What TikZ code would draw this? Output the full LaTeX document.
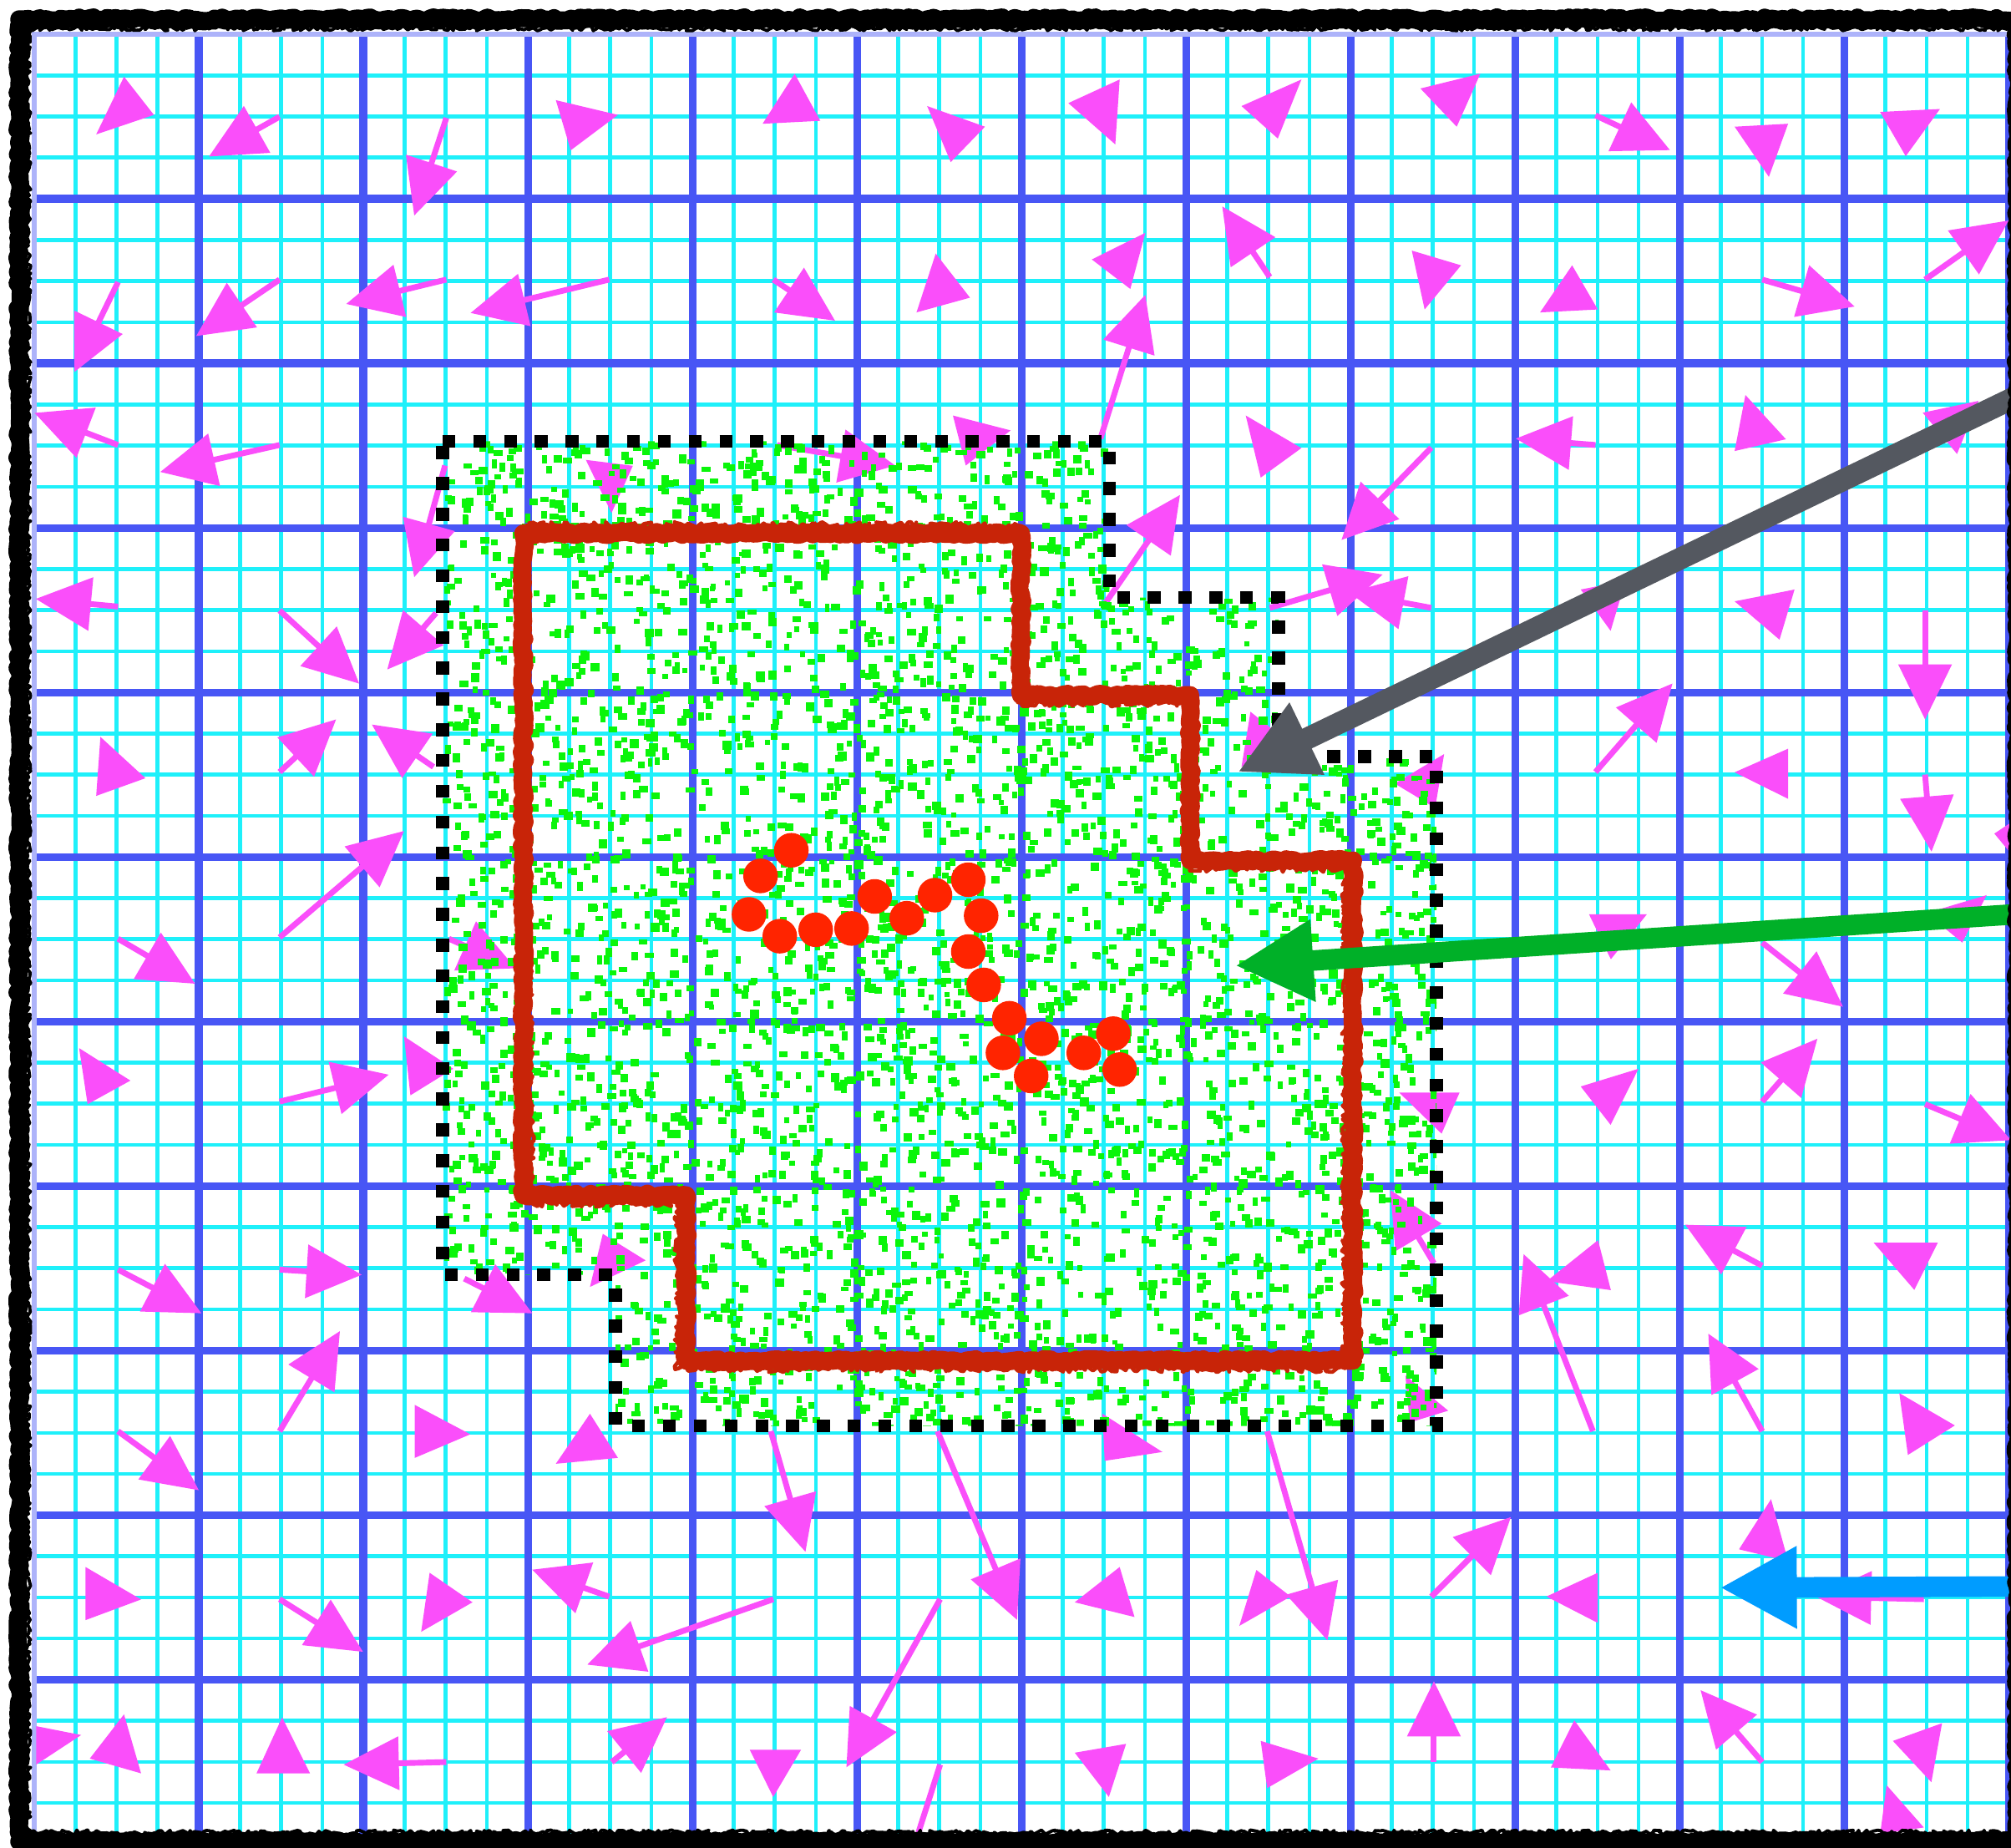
\documentclass[tikz,border=0pt]{standalone}
\usetikzlibrary{calc,arrows.meta,decorations.pathmorphing}
\definecolor{gmaj}{RGB}{72,86,245}
\definecolor{gmin}{RGB}{30,240,250}
\definecolor{magc}{RGB}{250,78,250}
\definecolor{speck}{RGB}{10,245,10}
\definecolor{redout}{RGB}{200,36,8}
\definecolor{reddot}{RGB}{255,36,0}
\definecolor{grayarr}{RGB}{84,88,96}
\definecolor{greenarr}{RGB}{0,176,40}
\definecolor{bluearr}{RGB}{0,156,255}
\tikzset{
  minorline/.style={draw=gmin,line width=3pt},
  majorline/.style={draw=gmaj,line width=6pt},
  mshaft/.style={draw=magc,line width=4.5pt},
  mhead/.style={fill=magc},
  gspeck/.style={fill=speck},
  dotline/.style={draw=black,line width=10pt,dash pattern=on 10pt off 14pt},
  redline/.style={draw=redout,line width=14pt,line join=round,line cap=round,decorate,decoration={random steps,segment length=3pt,amplitude=1.3pt}},
  redrough/.style={draw=redout,line width=3pt,line join=round,line cap=round,decorate,decoration={random steps,segment length=2pt,amplitude=3pt}},
  rdot/.style={fill=reddot},
  bigarrow/.style={line width=#1},
  borderline/.style={draw=black,line width=14pt,line join=round,line cap=round,decorate,decoration={random steps,segment length=3pt,amplitude=1.5pt}},
  borderthin/.style={draw=black,line width=2.5pt,line join=round,line cap=round,decorate,decoration={random steps,segment length=2pt,amplitude=2pt}},
}
\newcommand\mA[2]{\draw[mshaft] #1 -- ($#2!40pt!#1$);
  \fill[mhead] #2 -- ($#2!43pt!#1!21pt!90:#2$) -- ($#2!43pt!#1!21pt!-90:#2$) -- cycle;}
\newcommand\mT[3]{\fill[mhead] #1 -- #2 -- #3 -- cycle;}
\begin{document}
\begin{tikzpicture}[x=1pt,y=-1pt]
\useasboundingbox (0,0) rectangle (1568,1441);
\clip (0,0) rectangle (1568,1441);
\fill[white] (0,0) rectangle (1568,1441);
% grid
\foreach \k in {0,...,48}{\draw[minorline] ({26.7+\k*32.075},26.7) -- ({26.7+\k*32.075},1440);}
\foreach \k in {0,...,44}{\draw[minorline] (26.7,{26.7+\k*32.075}) -- (1568,{26.7+\k*32.075});}
\foreach \k in {1,...,12}{\draw[majorline] ({26.7+\k*128.3},26.7) -- ({26.7+\k*128.3},1440);}
\foreach \k in {1,...,11}{\draw[majorline] (26.7,{26.7+\k*128.3}) -- (1568,{26.7+\k*128.3});}
\draw[draw=gmaj!45,line width=4pt] (26.7,1440) -- (26.7,26.7) -- (1568,26.7);
% magenta arrows with shafts
\mA{(218,91)}{(163,122)}
\mA{(348,92)}{(323,168)}
\mA{(92,220)}{(58,290)}
\mA{(218,218)}{(153,262)}
\mA{(348,218)}{(270,237)}
\mA{(475,218)}{(367,244)}
\mA{(92,347)}{(27,322)}
\mA{(218,347)}{(125,368)}
\mA{(347,363)}{(323,450)}
\mA{(92,473)}{(28,467)}
\mA{(218,476)}{(280,533)}
\mA{(340,478)}{(302,522)}
\mA{(218,602)}{(262,561)}
\mA{(338,598)}{(290,565)}
\mA{(218,731)}{(315,648)}
\mA{(603,218)}{(651,250)}
\mA{(858,342)}{(893,230)}
\mA{(990,216)}{(953,161)}
\mA{(860,473)}{(920,386)}
\mA{(606,347)}{(698,363)}
\mA{(1244,90)}{(1302,117)}
\mA{(1374,218)}{(1446,239)}
\mA{(1501,218)}{(1566,172)}
\mA{(1244,347)}{(1182,342)}
\mA{(1116,349)}{(1046,421)}
\mA{(990,474)}{(1078,448)}
\mA{(1116,474)}{(1052,462)}
\mA{(1501,476)}{(1501,561)}
\mA{(1244,602)}{(1304,533)}
\mA{(1501,604)}{(1506,664)}
\mA{(92,732)}{(152,767)}
\mA{(350,732)}{(402,755)}
\mA{(218,859)}{(303,838)}
\mA{(92,990)}{(157,1024)}
\mA{(218,990)}{(282,994)}
\mA{(362,997)}{(415,1024)}
\mA{(218,1116)}{(265,1038)}
\mA{(92,1116)}{(155,1162)}
\mA{(218,1247)}{(283,1288)}
\mA{(475,1245)}{(415,1224)}
\mA{(603,1247)}{(458,1298)}
\mA{(348,1374)}{(268,1376)}
\mA{(477,1374)}{(520,1339)}
\mA{(601,1116)}{(628,1210)}
\mA{(731,1116)}{(793,1263)}
\mA{(988,1116)}{(1035,1279)}
\mA{(733,1247)}{(660,1378)}
\mA{(1374,735)}{(1437,785)}
\mA{(1118,985)}{(1084,928)}
\mA{(1374,859)}{(1417,810)}
\mA{(1501,861)}{(1568,889)}
\mA{(1242,1116)}{(1188,978)}
\mA{(1374,987)}{(1314,955)}
\mA{(1374,1116)}{(1332,1040)}
\mA{(1116,1245)}{(1178,1183)}
\mA{(1500,1247)}{(1416,1245)}
\mA{(1118,1374)}{(1118,1311)}
\mA{(1374,1374)}{(1326,1318)}
\draw[mshaft] (733,1376) -- (711,1445);
% magenta heads only
\mT{(96.7,59.8)}{(120,89.6)}{(75,104.8)}
\mT{(433.4,78.1)}{(481.8,89.6)}{(445,117.2)}
\mT{(456.8,358.6)}{(493.4,363.2)}{(476.8,400)}
\mT{(78.3,574.6)}{(113.4,606.8)}{(75,620.6)}
\mT{(619.6,57.5)}{(639.6,94.2)}{(594.6,96.5)}
\mT{(722.9,82.7)}{(768,98.8)}{(741.3,126.4)}
\mT{(833,80.4)}{(873,62)}{(869.6,112.6)}
\mT{(968,82.7)}{(1014.7,62)}{(996.3,108)}
\mT{(729.6,197.7)}{(756.3,232.1)}{(714.6,243.6)}
\mT{(893,181.6)}{(851.3,202.3)}{(881.3,225.3)}
\mT{(971.3,324)}{(1014.7,349.4)}{(983,372.4)}
\mT{(743,324)}{(788,335.6)}{(753,363)}
\mT{(1107.5,69)}{(1154.2,57.5)}{(1135.8,98.8)}
\mT{(1352.5,98.8)}{(1394.2,96.5)}{(1379.2,137.9)}
\mT{(1465.9,87.3)}{(1512.6,85)}{(1485.9,121.8)}
\mT{(1100.8,195.4)}{(1139.2,206.9)}{(1110.8,241.3)}
\mT{(1200.8,243.6)}{(1225.8,206.9)}{(1245.8,241.3)}
\mT{(1360.9,308)}{(1392.5,342.5)}{(1352.5,351.7)}
\mT{(1499.2,321.8)}{(1542.6,312.6)}{(1525.9,354)}
\mT{(1352.5,468.9)}{(1399.2,459.7)}{(1387.5,498.8)}
\mT{(1232.5,459.7)}{(1267.5,452.8)}{(1255.8,491.9)}
\mT{(1352.5,602.2)}{(1394.2,583.8)}{(1394.2,622.9)}
\mT{(1555,650)}{(1570,640)}{(1570,668)}
\mT{(1087.5,611)}{(1126,588)}{(1119,630)}
\mT{(1239,713)}{(1284,713)}{(1256,748)}
\mT{(1502,712)}{(1549,698)}{(1530,735)}
\mT{(975,555)}{(1000,575)}{(968,598)}
\mT{(61.7,817.3)}{(101.7,842.6)}{(68.3,861)}
\mT{(315,808.1)}{(353.4,833.4)}{(320,854.1)}
\mT{(470,962.1)}{(503.4,982.8)}{(460,1003.5)}
\mT{(323.4,1095.5)}{(366.7,1118.4)}{(323.4,1136.8)}
\mT{(460,1102.4)}{(481.8,1136.8)}{(433.4,1141.4)}
\mT{(66.7,1221.9)}{(110,1247.2)}{(66.7,1263.3)}
\mT{(335,1226.4)}{(368.4,1249.4)}{(328.4,1272.4)}
\mT{(28.3,1346)}{(63.3,1352.9)}{(28.3,1375.9)}
\mT{(96.7,1336.8)}{(110,1382.8)}{(70,1371.3)}
\mT{(220,1339.1)}{(241.7,1382.8)}{(200,1382.8)}
\mT{(859.6,1102.4)}{(906.3,1132.2)}{(861.3,1139.1)}
\mT{(838,1249.4)}{(873,1221.9)}{(884.6,1260.9)}
\mT{(966.3,1267.8)}{(979.6,1224.2)}{(1006.3,1244.9)}
\mT{(584.6,1364.4)}{(624.6,1364.4)}{(602.9,1401.2)}
\mT{(838,1366.7)}{(878,1359.8)}{(864.6,1401.2)}
\mT{(983,1357.5)}{(1028,1371.3)}{(988,1394.3)}
\mT{(1091,852)}{(1138,852)}{(1124,884)}
\mT{(1095.8,1072.5)}{(1129.2,1100)}{(1099.1,1109.2)}
\mT{(1232.5,847.2)}{(1277.5,833.4)}{(1255.8,877.1)}
\mT{(1206,999)}{(1246,967)}{(1256,1006)}
\mT{(1460.9,969)}{(1510.9,969)}{(1492.6,1005.8)}
\mT{(1480.9,1086.3)}{(1524.2,1111.5)}{(1487.6,1134.5)}
\mT{(1205.8,1244.9)}{(1245.8,1226.4)}{(1245.8,1265.5)}
\mT{(1355.9,1208.1)}{(1380.9,1169)}{(1394.2,1217.3)}
\mT{(1227.5,1341.4)}{(1209.2,1378.2)}{(1255.8,1380.5)}
\mT{(1475.9,1357.5)}{(1514.2,1343.7)}{(1505.9,1389.7)}
\mT{(1471,1392)}{(1500,1425)}{(1466,1430)}
% green speckles
\begin{scope}
\clip (345,344) -- (865,344) -- (865,466) -- (997,466) -- (997,590) -- (1120,590) -- (1120,1112) -- (480,1112) -- (480,994) -- (345,994) -- cycle;
\pgfmathsetseed{4242}
\foreach \i in {1,...,4300}{
  \pgfmathsetmacro{\xa}{345+778*rnd}
  \pgfmathsetmacro{\ya}{342+772*rnd}
  \pgfmathsetmacro{\sa}{3.8+3.4*rnd}
  \pgfmathsetmacro{\sb}{3.8+3.4*rnd}
  \fill[gspeck] (\xa,\ya) rectangle ++(\sa,\sb);
}
\end{scope}
% dotted region
\draw[dotline] (345,344) -- (865,344) -- (865,466) -- (997,466) -- (997,590) -- (1120,590) -- (1120,1112) -- (480,1112) -- (480,994) -- (345,994) -- cycle;
% red outline
\draw[redline] (408,416) -- (796,416) -- (796,542) -- (928,542) -- (928,671) -- (1055,671) -- (1055,1061) -- (535,1061) -- (535,932) -- (408,932) -- cycle;
\draw[redrough] (408,410) -- (796,410) -- (796,548) -- (928,548) -- (928,677) -- (1049,677) -- (1049,1067) -- (529,1067) -- (529,938) -- (414,938) -- cycle;
% red dots
\foreach \p in {(617,663),(593,683),(584,713),(608,730),(636,725),(664,724),(682,699),(707,716),(729,698),(755,686),(765,714),(755,742),(767,768),(787,794),(782,821),(804,839),(812,810),(845,821),(873,834),(868,806)}{
  \fill[rdot] \p circle (13.5pt);
}
% big pointer arrows
\coordinate (gs) at (1585,303);
\coordinate (gt) at (965,602);
\coordinate (ns) at (1585,712);
\coordinate (nt) at (963,753);
\coordinate (bs) at (1585,1237);
\coordinate (bt) at (1341,1238);
\draw[bigarrow=17pt,draw=grayarr,fill=grayarr,-{Triangle[length=60pt,width=58pt]}] (gs) -- (gt);
\draw[bigarrow=16pt,draw=greenarr,fill=greenarr,-{Triangle[length=61pt,width=60pt]}] (ns) -- (nt);
\draw[bigarrow=16pt,draw=bluearr,fill=bluearr,-{Triangle[length=60pt,width=60pt]}] (bs) -- (bt);
% sketchy frame
\draw[borderline] (15,15) -- (1573,15) -- (1573,1436) -- (15,1436) -- cycle;
\draw[borderthin] (23,22) -- (1566,22);
\draw[borderthin] (22,22) -- (22,1430);
\draw[borderthin] (23,1429) -- (1566,1429);
\end{tikzpicture}
\end{document}
